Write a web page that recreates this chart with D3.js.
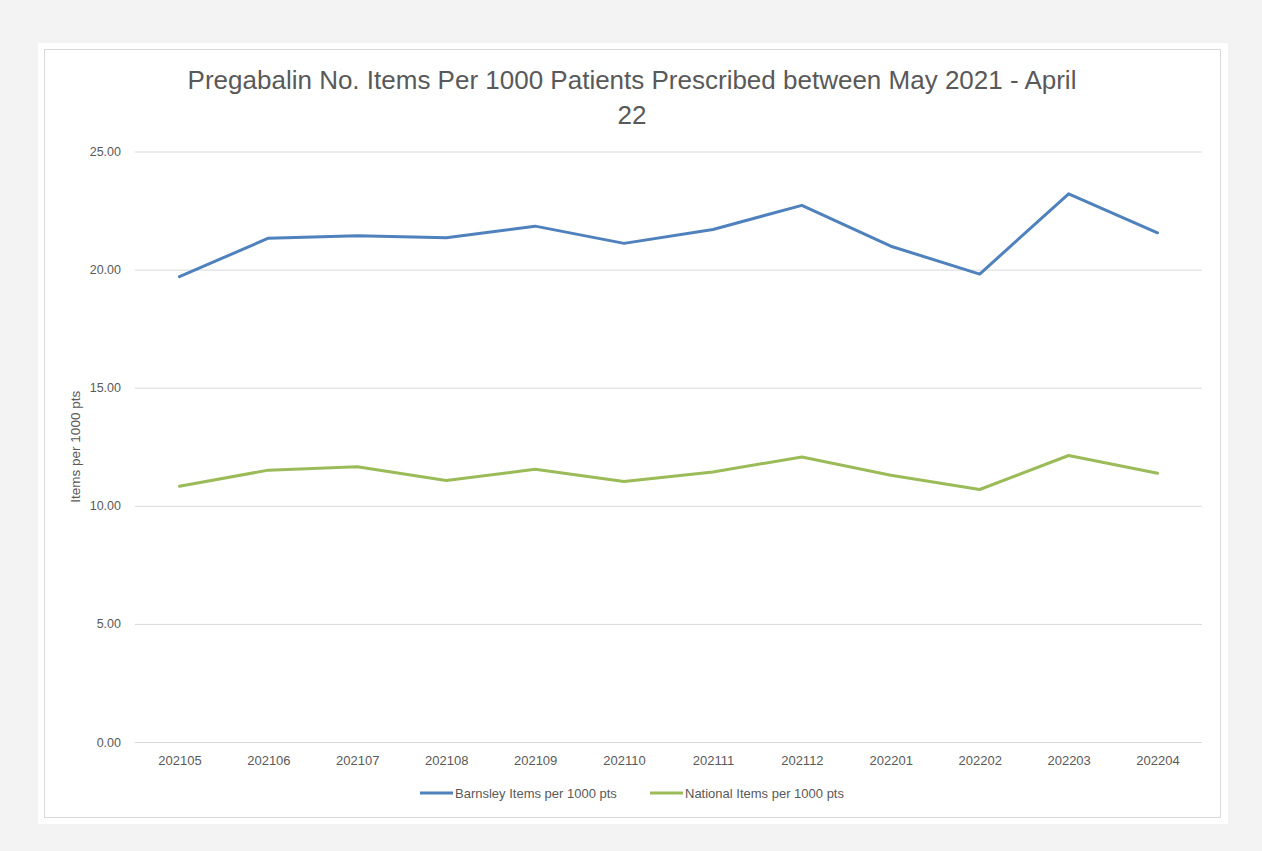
<!DOCTYPE html>
<html>
<head>
<meta charset="utf-8">
<script src="https://cdn.jsdelivr.net/npm/d3@7"></script>
<style>
  html, body { margin: 0; padding: 0; background: #f3f3f3; }
  svg { display: block; }
</style>
</head>
<body>
<div id="chart"></div>
<script>
// data
var months = ['202105','202106','202107','202108','202109','202110','202111','202112','202201','202202','202203','202204'];
var barnsley = [19.70, 21.33, 21.43, 21.35, 21.84, 21.11, 21.70, 22.72, 20.99, 19.81, 23.21, 21.56];
var national = [10.83, 11.51, 11.65, 11.07, 11.55, 11.03, 11.43, 12.07, 11.29, 10.69, 12.13, 11.38];
var yTicks = [0, 5, 10, 15, 20, 25];
var seriesNames = ['Barnsley Items per 1000 pts', 'National Items per 1000 pts'];
var seriesColors = ['#4f81bd', '#9bbb59'];

var width = 1262, height = 851;
var font = '"Liberation Sans", Arial, sans-serif';
var textColor = '#595959';

var svg = d3.select('#chart').append('svg')
	.attr('width', width)
	.attr('height', height);

svg.append('rect')
	.attr('width', width).attr('height', height)
	.attr('fill', '#f3f3f3');

// white card + thin border
svg.append('rect')
	.attr('x', 38).attr('y', 43)
	.attr('width', 1190).attr('height', 781)
	.attr('fill', '#ffffff');
svg.append('rect')
	.attr('x', 44.5).attr('y', 49.5)
	.attr('width', 1176).attr('height', 768)
	.attr('fill', 'none')
	.attr('stroke', '#d9d9d9');

var margin = {left: 135, right: 1202, top: 151.5, bottom: 742};

var x = d3.scalePoint()
	.domain(months)
	.range([margin.left, margin.right])
	.padding(0.5);

var y = d3.scaleLinear()
	.domain([0, 25])
	.range([margin.bottom, margin.top]);

// gridlines
var yAxis = d3.axisLeft(y)
	.tickValues(yTicks)
	.tickSize(-(margin.right - margin.left))
	.tickPadding(14)
	.tickFormat(d3.format('.2f'));

var gy = svg.append('g')
	.attr('transform', 'translate(' + margin.left + ',0)')
	.call(yAxis);
gy.select('.domain').remove();
gy.selectAll('.tick line').attr('stroke', '#d9d9d9');
gy.selectAll('.tick text')
	.attr('fill', textColor)
	.style('font-family', font)
	.style('font-size', '12.5px');

var xAxis = d3.axisBottom(x).tickSize(0).tickPadding(14);
var gx = svg.append('g')
	.attr('transform', 'translate(0,' + margin.bottom + ')')
	.call(xAxis);
gx.select('.domain').remove();
gx.selectAll('.tick text')
	.attr('fill', textColor)
	.style('font-family', font)
	.style('font-size', '13px');

// series lines
var line = d3.line()
	.x(function(d, i){ return x(months[i]); })
	.y(function(d){ return y(d); });

[barnsley, national].forEach(function(values, s){
	svg.append('path')
		.datum(values)
		.attr('d', line)
		.attr('fill', 'none')
		.attr('stroke', seriesColors[s])
		.attr('stroke-width', 3)
		.attr('stroke-linejoin', 'round')
		.attr('stroke-linecap', 'round');
});

// title
var title = svg.append('text')
	.attr('text-anchor', 'middle')
	.attr('fill', textColor)
	.style('font-family', font)
	.style('font-size', '26px');
title.append('tspan').attr('x', 632).attr('y', 89)
	.text('Pregabalin No. Items Per 1000 Patients Prescribed between May 2021 - April');
title.append('tspan').attr('x', 632).attr('y', 124)
	.text('22');

// y axis title
svg.append('text')
	.attr('transform', 'translate(80,' + ((margin.top + margin.bottom) / 2) + ') rotate(-90)')
	.attr('text-anchor', 'middle')
	.attr('fill', textColor)
	.style('font-family', font)
	.style('font-size', '13.5px')
	.text('Items per 1000 pts');

// legend
var legendX = [420, 650];
seriesNames.forEach(function(name, s){
	var g = svg.append('g').attr('transform', 'translate(' + legendX[s] + ',793)');
	g.append('line')
		.attr('x1', 0).attr('x2', 33)
		.attr('stroke', seriesColors[s])
		.attr('stroke-width', 3);
	g.append('text')
		.attr('x', 35).attr('y', 4.5)
		.attr('fill', textColor)
		.style('font-family', font)
		.style('font-size', '13px')
		.text(name);
});
</script>
</body>
</html>
